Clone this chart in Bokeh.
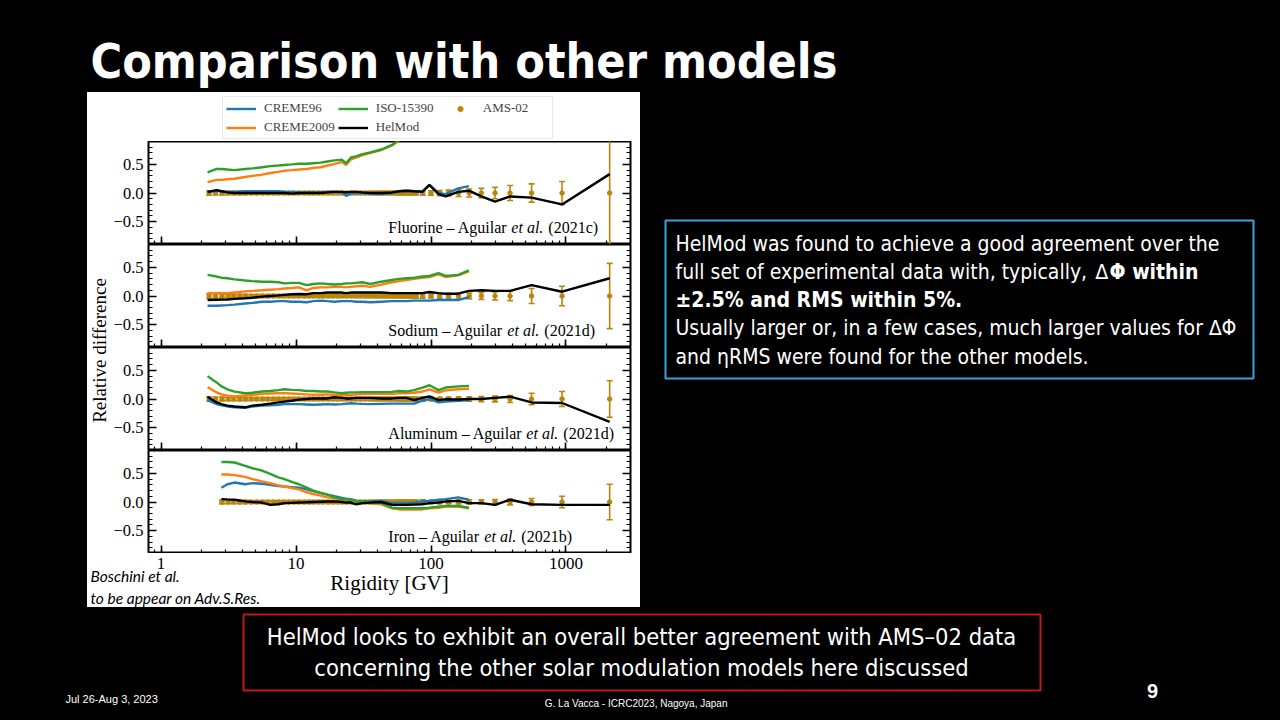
import numpy as np
from bokeh.plotting import figure
from bokeh.models import (Range1d, LinearAxis, FixedTicker, Label, Legend,
                          LegendItem, BoxAnnotation, LogTickFormatter)
from bokeh.layouts import row, column
from bokeh.embed import file_html
from bokeh.resources import INLINE

nan = float("nan")

# ---------------- data ----------------
# rigidity grid [GV] on which the model curves are drawn
R_MOD = [2.21, 2.58, 2.80, 3.10, 3.50, 4.20, 4.75, 5.60, 6.44, 7.40, 8.20, 9.30,
         10.5, 12.0, 13.4, 15.2, 17.1, 19.3, 21.9, 23.5, 25.5, 27.9, 31.0, 35.6,
         42.8, 51.4, 58.1, 65.6, 75.0, 86.3, 97.5, 113.6, 128.5, 159.0, 191.0]
# HelMod continues at the high-rigidity AMS points
R_HEL_HIGH = [236, 298, 385, 556, 935, 2107]

# AMS-02 rigidity bins
AMS_R_LOW = [2.27, 2.53, 2.83, 3.14, 3.46, 3.83, 4.22, 4.65, 5.12, 5.63,
             6.18, 6.78, 7.42, 8.11, 8.86, 9.67, 10.5, 11.5, 12.5, 13.5,
             14.7, 15.9, 17.3, 18.7, 20.3, 21.9, 23.7, 25.7, 27.7, 29.9,
             32.3, 34.8, 37.5, 40.4, 43.5, 46.8, 50.3, 54.1, 58.2, 62.5,
             67.2, 72.3, 77.7, 86.8]
AMS_ERR_LOW = [0.040, 0.035, 0.032, 0.030, 0.030, 0.028, 0.028, 0.027, 0.027, 0.026,
               0.026, 0.025, 0.025, 0.025, 0.025, 0.025, 0.025, 0.025, 0.025, 0.025,
               0.025, 0.025, 0.025, 0.025, 0.025, 0.025, 0.025, 0.025, 0.026, 0.026,
               0.027, 0.027, 0.028, 0.028, 0.029, 0.030, 0.030, 0.031, 0.032, 0.033,
               0.034, 0.035, 0.036, 0.038]
AMS_R_HIGH = [100, 116, 135, 160, 192, 236, 298, 385, 556, 935, 2107]

# Fluorine
F_C96 = [0.01, 0.04, 0.03, 0.02, 0.02, 0.03, 0.03, 0.03, 0.03, 0.03, 0.02, 0.02,
         0.01, 0.01, 0.01, 0.01, 0.02, 0.02, 0.01, -0.05, -0.01, 0.0, 0.0, -0.01,
         -0.02, 0.0, 0.03, 0.04, 0.03, 0.03, 0.14, 0.0, -0.02, 0.08, 0.12]
F_C09 = [0.19, 0.23, 0.23, 0.24, 0.25, 0.28, 0.30, 0.32, 0.35, 0.37, 0.39, 0.40,
         0.41, 0.42, 0.44, 0.45, 0.48, 0.51, 0.54, 0.49, 0.59, 0.62, 0.66, 0.70,
         0.75, 0.83, 0.92, 1.01, nan, nan, nan, nan, nan, nan, nan]
F_ISO = [0.36, 0.42, 0.42, 0.41, 0.40, 0.42, 0.43, 0.45, 0.47, 0.48, 0.49, 0.50,
         0.51, 0.51, 0.52, 0.53, 0.55, 0.57, 0.58, 0.52, 0.62, 0.64, 0.68, 0.71,
         0.76, 0.84, 0.93, 1.02, nan, nan, nan, nan, nan, nan, nan]
F_HEL = [0.02, 0.05, 0.03, 0.01, 0.0, 0.0, 0.0, 0.0, 0.0, 0.0, 0.0, -0.01,
         0.0, 0.0, 0.0, 0.0, 0.01, 0.02, 0.02, 0.01, 0.02, 0.02, 0.01, 0.0,
         0.0, 0.01, 0.03, 0.04, 0.03, 0.02, 0.14, -0.02, -0.06, 0.02, 0.04]
F_HEL_HIGH = [-0.06, -0.15, -0.06, -0.08, -0.20, 0.33]
F_ERR_HIGH = [0.04, 0.045, 0.05, 0.06, 0.07, 0.08, 0.10, 0.13, 0.16, 0.20, 1.30]

# Sodium
NA_C96 = [-0.17, -0.17, -0.165, -0.16, -0.15, -0.13, -0.12, -0.10, -0.10, -0.09, -0.09, -0.10,
          -0.10, -0.11, -0.09, -0.08, -0.09, -0.10, -0.09, -0.09, -0.09, -0.10, -0.10, -0.11,
          -0.10, -0.09, -0.09, -0.09, -0.08, -0.08, -0.08, -0.07, -0.07, -0.07, -0.02]
NA_C09 = [0.05, 0.05, 0.05, 0.05, 0.06, 0.08, 0.09, 0.10, 0.11, 0.12, 0.13, 0.14,
          0.15, 0.10, 0.14, 0.15, 0.15, 0.16, 0.16, 0.15, 0.16, 0.17, 0.18, 0.16,
          0.20, 0.24, 0.26, 0.28, 0.30, 0.32, 0.33, 0.38, 0.33, 0.36, 0.43]
NA_ISO = [0.37, 0.34, 0.32, 0.31, 0.29, 0.27, 0.26, 0.25, 0.25, 0.24, 0.22, 0.23,
          0.23, 0.19, 0.21, 0.22, 0.21, 0.20, 0.21, 0.22, 0.22, 0.23, 0.24, 0.21,
          0.25, 0.28, 0.30, 0.31, 0.32, 0.34, 0.35, 0.40, 0.35, 0.37, 0.45]
NA_HEL = [-0.07, -0.065, -0.063, -0.06, -0.05, -0.04, -0.03, -0.01, 0.0, 0.01, 0.02, 0.03,
          0.035, 0.03, 0.05, 0.05, 0.06, 0.06, 0.06, 0.05, 0.06, 0.06, 0.06, 0.06,
          0.06, 0.05, 0.05, 0.05, 0.05, 0.05, 0.07, 0.05, 0.04, 0.04, 0.09]
NA_HEL_HIGH = [0.10, 0.09, 0.09, 0.19, 0.075, 0.31]
NA_ERR_HIGH = [0.035, 0.04, 0.045, 0.05, 0.05, 0.06, 0.07, 0.08, 0.13, 0.17, 0.57]

# Aluminum
AL_C96 = [-0.02, -0.09, -0.11, -0.13, -0.145, -0.155, -0.13, -0.115, -0.11, -0.10, -0.09, -0.09,
          -0.09, -0.095, -0.10, -0.095, -0.09, -0.095, -0.09, -0.08, -0.075, -0.08, -0.085, -0.09,
          -0.085, -0.08, -0.08, -0.08, -0.08, -0.03, 0.0, -0.06, -0.045, -0.03, -0.02]
AL_C09 = [0.21, 0.115, 0.08, 0.06, 0.045, 0.06, 0.07, 0.09, 0.095, 0.10, 0.10, 0.095,
          0.09, 0.08, 0.075, 0.075, 0.08, 0.07, 0.07, 0.07, 0.07, 0.08, 0.085, 0.09,
          0.09, 0.09, 0.10, 0.10, 0.11, 0.13, 0.17, 0.11, 0.15, 0.17, 0.18]
AL_ISO = [0.40, 0.29, 0.22, 0.17, 0.13, 0.10, 0.11, 0.13, 0.14, 0.155, 0.17, 0.16,
          0.155, 0.14, 0.14, 0.13, 0.13, 0.115, 0.10, 0.11, 0.115, 0.115, 0.12, 0.12,
          0.12, 0.125, 0.14, 0.13, 0.155, 0.20, 0.24, 0.155, 0.20, 0.22, 0.23]
AL_HEL = [0.04, -0.06, -0.09, -0.115, -0.13, -0.145, -0.115, -0.10, -0.08, -0.06, -0.045, -0.03,
          -0.01, 0.0, 0.01, 0.01, 0.01, 0.03, 0.02, 0.01, 0.01, 0.02, 0.02, 0.02,
          0.01, 0.01, 0.02, 0.02, -0.02, 0.02, 0.045, -0.02, -0.005, -0.01, 0.0]
AL_HEL_HIGH = [0.0, 0.02, 0.04, -0.06, -0.07, -0.40]
AL_ERR_HIGH = [0.03, 0.03, 0.035, 0.04, 0.04, 0.045, 0.05, 0.06, 0.10, 0.13, 0.32]

# Iron
FE_C96 = [nan, nan, 0.25, 0.31, 0.34, 0.31, 0.33, 0.32, 0.30, 0.28, 0.27, 0.26,
          0.25, 0.22, 0.19, 0.16, 0.13, 0.10, 0.07, 0.06, 0.05, 0.02, 0.015, 0.01,
          0.02, -0.02, -0.02, -0.02, -0.01, 0.01, 0.02, 0.04, 0.05, 0.08, 0.04]
FE_C09 = [nan, nan, 0.48, 0.48, 0.47, 0.44, 0.40, 0.36, 0.33, 0.29, 0.27, 0.245,
          0.22, 0.17, 0.14, 0.11, 0.08, 0.07, 0.04, 0.03, 0.02, 0.01, 0.0, -0.02,
          -0.04, -0.11, -0.13, -0.13, -0.13, -0.13, -0.11, -0.10, -0.08, -0.08, -0.11]
FE_ISO = [nan, nan, 0.70, 0.70, 0.69, 0.63, 0.59, 0.55, 0.49, 0.43, 0.40, 0.35,
          0.31, 0.25, 0.20, 0.16, 0.13, 0.08, 0.05, 0.045, 0.04, 0.02, 0.01, -0.01,
          -0.02, -0.10, -0.11, -0.11, -0.11, -0.11, -0.10, -0.08, -0.07, -0.07, -0.10]
FE_HEL = [nan, nan, 0.05, 0.045, 0.04, 0.01, 0.0, -0.01, -0.05, -0.04, -0.02, -0.015,
          -0.01, -0.005, 0.0, 0.005, 0.01, 0.01, 0.0, -0.01, -0.01, -0.04, -0.02, -0.01,
          0.0, -0.05, -0.05, -0.05, -0.045, -0.04, -0.02, -0.01, 0.01, 0.02, -0.02]
FE_HEL_HIGH = [-0.02, -0.05, 0.04, -0.04, -0.05, -0.05]
FE_ERR_HIGH = [0.03, 0.03, 0.03, 0.035, 0.04, 0.04, 0.045, 0.05, 0.06, 0.10, 0.31]
FE_R_MIN = 2.8

PANEL_TEXT = [("Fluorine – Aguilar ", "(2021c)"), ("Sodium – Aguilar ", "(2021d)"),
              ("Aluminum – Aguilar ", "(2021d)"), ("Iron – Aguilar ", "(2021b)")]
PANEL_TEXT_W = [123, 119, 138, 96]  # pixel width of the first text piece

SERIES_NAMES = ["CREME96", "CREME2009", "ISO-15390", "HelMod", "AMS-02"]
X_TICKS = [1, 10, 100, 1000]
X_TICK_LABELS = ["1", "10", "100", "1000"]

# ---------------- style / geometry ----------------
BLUE, ORANGE, GREEN, BLACK, GOLD = "#1f77b4", "#ff7f0e", "#2ca02c", "#000000", "#b8860b"
SERIF = "Liberation Serif"
NARROW = "DejaVu Sans Condensed, Liberation Sans"
SANS = "Liberation Sans"

WHITE_L, WHITE_R = 87, 640      # page pixels of the white chart area
FRAME_L, FRAME_R = 148, 630     # page pixels of the panel frames
LEGEND_L, LEGEND_B = 222, 139   # page pixels of the legend box (left, bottom)
PANEL_TOP = 141

X_RANGE = Range1d(0.807, 3006)
X_HIDDEN = {1: "", 10: "", 100: "", 1000: ""}
Y_MAJOR = [-0.5, 0.0, 0.5]
Y_MINOR = [-0.8, -0.7, -0.6, -0.4, -0.3, -0.2, -0.1, 0.1, 0.2, 0.3, 0.4, 0.6, 0.7, 0.8]


def panel(width, height, left):
    p = figure(width=width, height=height, x_axis_type="log", x_range=X_RANGE,
               y_range=Range1d(-0.9, 0.9), output_backend="svg", toolbar_location=None,
               min_border_left=left, min_border_right=10, min_border_top=0,
               min_border_bottom=0, background_fill_color="white",
               border_fill_color="white", outline_line_color="black",
               outline_line_width=2)
    p.grid.visible = False
    xa = p.xaxis[0]
    xa.major_tick_in, xa.major_tick_out = 8, 0
    xa.minor_tick_in, xa.minor_tick_out = 4, 0
    xa.major_tick_line_width, xa.minor_tick_line_width = 1.6, 1.2
    xa.axis_line_color = None
    xa.formatter = LogTickFormatter(min_exponent=5)
    xa.major_label_text_font_size = "1px"
    xa.major_label_text_alpha = 0
    xa.major_label_standoff = 0
    xa.major_label_overrides = X_HIDDEN
    ya = p.yaxis[0]
    ya.ticker = FixedTicker(ticks=Y_MAJOR, minor_ticks=Y_MINOR)
    ya.major_label_overrides = {-0.5: "−0.5", 0.0: "0.0", 0.5: "0.5"}
    ya.major_tick_in, ya.major_tick_out = 8, 0
    ya.minor_tick_in, ya.minor_tick_out = 4, 0
    ya.major_tick_line_width, ya.minor_tick_line_width = 1.6, 1.2
    ya.axis_line_color = None
    ya.major_label_text_font = SERIF
    ya.major_label_text_font_size = "16.5px"
    ya.major_label_text_color = "black"
    ya.major_label_standoff = 5
    ra = LinearAxis(ticker=FixedTicker(ticks=Y_MAJOR, minor_ticks=Y_MINOR),
                    major_label_text_font_size="1px", major_label_text_alpha=0,
                    major_label_standoff=0,
                    major_label_overrides={-0.5: "", 0.0: "", 0.5: ""},
                    major_tick_in=8, major_tick_out=0, minor_tick_in=4, minor_tick_out=0,
                    major_tick_line_width=1.6, minor_tick_line_width=1.2,
                    axis_line_color=None)
    p.add_layout(ra, "right")
    return p


def draw(p, idx, c96, c09, iso, hel, hel_high, err_high, r_min=0.0, y_range_name="default"):
    r = np.array(AMS_R_LOW + AMS_R_HIGH, dtype=float)
    e = np.array(AMS_ERR_LOW + err_high, dtype=float)
    keep = r >= r_min
    r, e = r[keep], e[keep]
    y = np.zeros(len(r))
    kw = dict(y_range_name=y_range_name)
    p.segment(r, y - e, r, y + e, line_color=GOLD, line_width=1.6, **kw)
    p.scatter(r, y + e, marker="dash", size=6, line_color=GOLD, line_width=1.6, **kw)
    p.scatter(r, y - e, marker="dash", size=6, line_color=GOLD, line_width=1.6, **kw)
    pt = p.scatter(r, y, marker="circle", size=4.5, color=GOLD, **kw)
    rm = np.array(R_MOD, dtype=float)
    l96 = p.line(rm, np.array(c96, dtype=float), line_color=BLUE, line_width=2.4, **kw)
    l09 = p.line(rm, np.array(c09, dtype=float), line_color=ORANGE, line_width=2.4, **kw)
    liso = p.line(rm, np.array(iso, dtype=float), line_color=GREEN, line_width=2.4, **kw)
    rh = np.array(R_MOD + R_HEL_HIGH, dtype=float)
    lhel = p.line(rh, np.array(hel + hel_high, dtype=float), line_color=BLACK,
                  line_width=2.4, **kw)
    if idx is not None:
        main, year = PANEL_TEXT[idx]
        w = PANEL_TEXT_W[idx]
        common = dict(x=48.3, y=-0.6, text_font=SERIF, text_font_size="16px",
                      text_baseline="middle", text_color="black")
        p.add_layout(Label(text=main, **common))
        p.add_layout(Label(text="et al.", x_offset=w, text_font_style="italic", **common))
        p.add_layout(Label(text=year, x_offset=w + 37, **common))
    return l96, l09, liso, lhel, pt, r, e


def deco(w, h, fill="black"):
    f = figure(width=w, height=h, x_range=Range1d(0, w), y_range=Range1d(h, 0),
               output_backend="svg", toolbar_location=None, min_border=0,
               x_axis_location=None, y_axis_location=None,
               background_fill_color=fill, border_fill_color=fill,
               outline_line_color=None)
    f.grid.visible = False
    return f


# ---------------- chart panels ----------------
p1 = panel(530, 103, 38)
p2 = panel(530, 103, 38)
p3 = panel(530, 103, 38)
p4 = panel(530, 103, 38)

draw(p1, 0, F_C96, F_C09, F_ISO, F_HEL, F_HEL_HIGH, F_ERR_HIGH)
draw(p2, 1, NA_C96, NA_C09, NA_ISO, NA_HEL, NA_HEL_HIGH, NA_ERR_HIGH)
draw(p3, 2, AL_C96, AL_C09, AL_ISO, AL_HEL, AL_HEL_HIGH, AL_ERR_HIGH)
draw(p4, 3, FE_C96, FE_C09, FE_ISO, FE_HEL, FE_HEL_HIGH, FE_ERR_HIGH, FE_R_MIN)

# legend band above the first panel: the Fluorine series are drawn again on a
# y range that keeps them out of view, so only their legend symbols show
lf = figure(width=530, height=49, x_axis_type="log", x_range=X_RANGE,
            y_range=Range1d(0, 1), output_backend="svg", toolbar_location=None,
            min_border_left=38, min_border_right=10, min_border_top=0, min_border_bottom=0,
            x_axis_location=None, y_axis_location=None,
            background_fill_color="white", border_fill_color="white",
            outline_line_color=None)
lf.grid.visible = False
lf.extra_y_ranges = {"out": Range1d(10, 11)}
g = draw(lf, None, F_C96, F_C09, F_ISO, F_HEL, F_HEL_HIGH, F_ERR_HIGH, y_range_name="out")
gbar = lf.scatter(g[5], np.zeros(len(g[5])), marker="line", size=13,
                  line_color=GOLD, line_width=1.6, y_range_name="out")
items = [LegendItem(label=SERIES_NAMES[i], renderers=[g[i]]) for i in range(4)]
items.append(LegendItem(label=SERIES_NAMES[4], renderers=[g[4], gbar]))
leg = Legend(items=items, location=(LEGEND_L - FRAME_L, PANEL_TOP - LEGEND_B),
             orientation="vertical", ncols=3,
             label_text_font=SERIF, label_text_font_size="13px",
             glyph_width=30, glyph_height=13, label_height=13, label_width=66,
             label_standoff=8, spacing=3, padding=3, margin=0,
             border_line_color="#d0d0d0", border_line_width=1,
             background_fill_color="white")
lf.add_layout(leg, "center")

# strip with the common y label
strip = deco(23, 461, fill="white")
strip.add_layout(Label(x=11.5, y=258, text="Relative difference", angle=np.pi / 2,
                       text_align="center", text_baseline="middle", text_font=SERIF,
                       text_font_size="19px", text_color="black"))

# strip under the panels: x tick labels, x label and the citation,
# on a log scale continuing exactly the panels' one
lo, hi = np.log10(X_RANGE.start), np.log10(X_RANGE.end)
per_px = (hi - lo) / (FRAME_R - FRAME_L)
xb = Range1d(10 ** (lo - (FRAME_L - WHITE_L) * per_px), 10 ** (hi + (WHITE_R - FRAME_R) * per_px))
bw = figure(width=WHITE_R - WHITE_L, height=54, x_axis_type="log", x_range=xb,
            y_range=Range1d(54, 0), output_backend="svg", toolbar_location=None,
            min_border=0, x_axis_location=None, y_axis_location=None,
            background_fill_color="white", border_fill_color="white",
            outline_line_color=None)
bw.grid.visible = False
for v, t in zip(X_TICKS, X_TICK_LABELS):
    bw.add_layout(Label(x=v, y=10, text=t, text_align="center", text_baseline="middle",
                        text_font=SERIF, text_font_size="17px", text_color="black"))
bw.add_layout(Label(x=(FRAME_L + FRAME_R) / 2 - WHITE_L, x_units="screen", y=29,
                    text="Rigidity [GV]", text_align="center", text_baseline="middle",
                    text_font=SERIF, text_font_size="21px", text_color="black"))
bw.add_layout(Label(x=3, x_units="screen", y=22, text="Boschini et al.", text_font="Lato",
                    text_font_style="italic", text_font_size="15.5px", text_color="black",
                    text_baseline="middle"))
bw.add_layout(Label(x=3, x_units="screen", y=44, text="to be appear on Adv.S.Res.",
                    text_font="Lato", text_font_style="italic", text_font_size="15.5px",
                    text_color="black", text_baseline="middle"))

white = column(row(strip, column(lf, p1, p2, p3, p4)), bw,
               styles={"background-color": "white"})

# ---------------- slide decoration ----------------
title = deco(1280, 92)
title.add_layout(Label(x=90, y=60, text="Comparison with other models", text_color="white",
                       text_font=NARROW, text_font_style="bold", text_font_size="48px",
                       text_baseline="middle"))

left_black = deco(87, 515)

right = deco(640, 515)
right.add_layout(BoxAnnotation(left=25, right=613, top=128, bottom=286, fill_alpha=0,
                               line_alpha=1, line_color="#3aa3dc", line_width=2))
tcommon = dict(text_color="white", text_font=NARROW, text_font_size="21px",
               text_baseline="middle")
right.add_layout(Label(x=35, y=151, text="HelMod was found to achieve a good agreement over the", **tcommon))
right.add_layout(Label(x=35, y=179, text="full set of experimental data with, typically,", **tcommon))
right.add_layout(Label(x=455, y=179, text="∆", **tcommon))
right.add_layout(Label(x=469, y=179, text="Φ within", text_font_style="bold", **tcommon))
right.add_layout(Label(x=35, y=207, text="±2.5% and RMS within 5%.", text_font_style="bold", **tcommon))
right.add_layout(Label(x=35, y=235, text="Usually larger or, in a few cases, much larger values for ∆Φ", **tcommon))
right.add_layout(Label(x=35, y=264, text="and ηRMS were found for the other models.", **tcommon))

bottom = deco(1280, 113)
bottom.add_layout(BoxAnnotation(left=243, right=1040, top=7, bottom=83, fill_alpha=0,
                                line_alpha=1, line_color="#c01818", line_width=2))
bcommon = dict(text_color="white", text_font=NARROW, text_font_size="23.5px",
               text_baseline="middle", text_align="center")
bottom.add_layout(Label(x=641, y=29, text="HelMod looks to exhibit an overall better agreement with AMS–02 data", **bcommon))
bottom.add_layout(Label(x=641, y=60, text="concerning the other solar modulation models here discussed", **bcommon))
bottom.add_layout(Label(x=65, y=91, text="Jul 26-Aug 3, 2023", text_color="white", text_font=SANS,
                        text_font_size="11px", text_baseline="middle"))
bottom.add_layout(Label(x=637, y=96, text="G. La Vacca - ICRC2023, Nagoya,  Japan", text_color="white",
                        text_font=SANS, text_font_size="10px", text_baseline="middle",
                        text_align="center"))
bottom.add_layout(Label(x=1152, y=83, text="9", text_color="white", text_font=SANS,
                        text_font_style="bold", text_font_size="20px", text_baseline="middle",
                        text_align="center"))

page = column(title, row(left_black, white, right), bottom,
              styles={"background-color": "black"})

open("out.html", "w").write(file_html(page, INLINE, title="Comparison with other models"))
